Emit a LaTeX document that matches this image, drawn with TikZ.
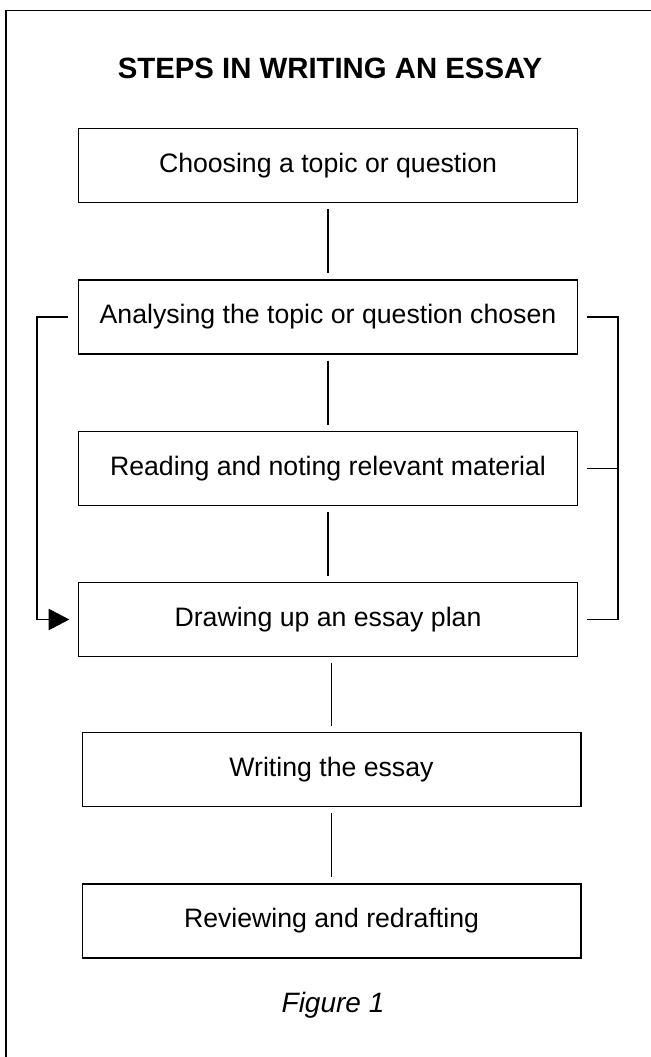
\documentclass[tikz,border=0pt]{standalone}
\usepackage{fontspec}
\setmainfont{Liberation Sans}
\usetikzlibrary{arrows.meta,calc}
\begin{document}
\begin{tikzpicture}[x=0.75pt,y=-0.75pt,
  stepbox/.style={draw, line width=1pt, minimum width=374pt, minimum height=55.5pt,
    inner sep=0pt, font=\fontsize{20}{24}\selectfont},
  conn/.style={line width=0.8pt, shorten <=4.5pt, shorten >=4.5pt},
  frameline/.style={line width=1.1pt},
  brace/.style={line width=0.8pt}]
\useasboundingbox (0,0) rectangle (650,1057);
% outer frame (cropped at right and bottom)
\draw[frameline] (6,1060) -- (6,10.7) -- (655,10.7);
\node[font=\fontsize{22}{26}\selectfont\bfseries] (title) at (330,68) {STEPS IN WRITING AN ESSAY};
\node[stepbox] (b1) at (328,165.5) {Choosing a topic or question};
\node[stepbox] (b2) at (328,317) {Analysing the topic or question chosen};
\node[stepbox] (b3) at (328,468.5) {Reading and noting relevant material};
\node[stepbox] (b4) at (328,619.5) {Drawing up an essay plan};
\node[stepbox] (b5) at (331.5,769.5) {Writing the essay};
\node[stepbox] (b6) at (331.5,921) {Reviewing and redrafting};
\node[font=\fontsize{21}{25}\selectfont\itshape] (fig) at (333,1005) {Figure 1};
% vertical connectors
\draw[conn] (b1) -- (b2);
\draw[conn] (b2) -- (b3);
\draw[conn] (b3) -- (b4);
\draw[conn] (b4.south -| b5.north) -- (b5.north);
\draw[conn] (b5) -- (b6);
% left feedback arrow
\coordinate (lv) at (37,0);
\draw[brace, shorten <=7.5pt, shorten >=6.5pt, -{Triangle[length=15.5pt,width=16pt]}]
  (b2.west) -- (b2.west -| lv) |- (b4.west);
% right bracket
\coordinate (rv) at (618,0);
\draw[brace, shorten <=6.5pt, shorten >=6.5pt] (b2.east) -- (b2.east -| rv) |- (b4.east);
\draw[brace, shorten <=6.5pt] (b3.east) -- (b3.east -| rv);
\end{tikzpicture}
\end{document}
